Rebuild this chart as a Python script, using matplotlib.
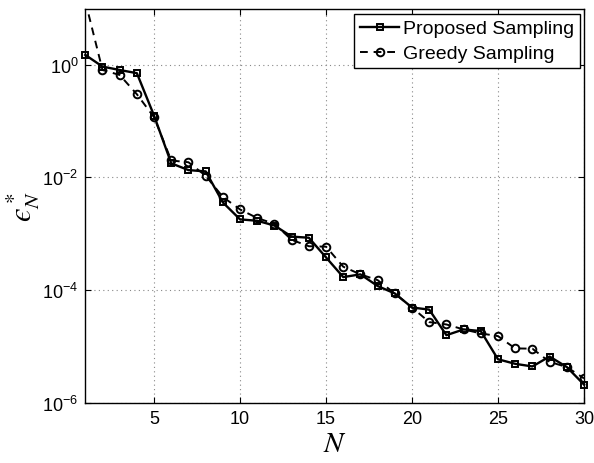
import matplotlib
matplotlib.use('Agg')
import matplotlib.pyplot as plt
from matplotlib.ticker import FixedLocator, FuncFormatter, NullLocator
import numpy as np

# values
N = list(range(1, 31))
proposed = [1.5, 0.93, 0.81, 0.71, 0.125, 0.0178, 0.0135, 0.0128, 0.0036, 0.0018,
            0.0017, 0.0014, 0.00089, 0.00085, 0.00038, 0.00017, 0.00019, 0.000118, 8.7e-5, 4.9e-5,
            4.5e-5, 1.58e-5, 2.0e-5, 1.87e-5, 5.9e-6, 4.9e-6, 4.4e-6, 6.6e-6, 4.3e-6, 2.1e-6]
greedy = [13.5, 0.81, 0.66, 0.30, 0.117, 0.020, 0.0186, 0.0107, 0.0045, 0.0027,
          0.0019, 0.0015, 0.00078, 0.0006, 0.00059, 0.00026, 0.00019, 0.00015, 8.7e-5, 4.9e-5,
          2.7e-5, 2.45e-5, 2.0e-5, 1.7e-5, 1.52e-5, 9.2e-6, 9.1e-6, 5.3e-6, 4.3e-6, 2.7e-6]
xticks = [5, 10, 15, 20, 25, 30]
yticks = [1e-6, 1e-4, 1e-2, 1e0]

plt.rcParams['font.family'] = ['Liberation Sans', 'DejaVu Sans']
plt.rcParams['mathtext.fontset'] = 'stix'

fig = plt.figure(figsize=(5.94, 4.64), dpi=100)
ax = fig.add_axes([0.1436, 0.130, 0.8395, 0.8495])

ax.plot(N, proposed, '-s', color='k', lw=1.7, ms=5, mfc='none', mew=1.4,
        clip_on=False, zorder=4, label='Proposed Sampling')
ax.plot(N, greedy, '--o', color='k', lw=1.4, ms=5.5, mfc='none', mew=1.4,
        dashes=(4, 3), zorder=3, label='Greedy Sampling')

ax.set_yscale('log')
ax.set_xlim(1, 30)
ax.set_ylim(1e-6, 1e1)
ax.xaxis.set_major_locator(FixedLocator(xticks))
ax.yaxis.set_major_locator(FixedLocator(yticks))
ax.yaxis.set_minor_locator(NullLocator())
ax.yaxis.set_major_formatter(FuncFormatter(
    lambda v, p: r'$\mathregular{10^{%d}}$' % int(round(np.log10(v)))))

ax.tick_params(direction='in', length=4, width=0.8, labelsize=13,
               top=True, right=True, pad=5)
ax.grid(True, which='major', color='#888888', linestyle=(0, (1, 3)), linewidth=0.8)
for s in ax.spines.values():
    s.set_linewidth(1.0)

ax.set_xlabel(r'$N$', fontsize=21, labelpad=2)
# lunate epsilon, as in the reference
ax.set_ylabel('$\u03f5^*_N$', fontsize=22, labelpad=0)

leg = ax.legend(loc='upper right', bbox_to_anchor=(0.992, 0.986), fontsize=14,
                handlelength=2.0, handletextpad=0.2, borderpad=0.3,
                labelspacing=0.38, borderaxespad=0, fancybox=False, framealpha=1)
leg.get_frame().set_edgecolor('k')
leg.get_frame().set_linewidth(1.0)

fig.savefig('out.png', dpi=100)
